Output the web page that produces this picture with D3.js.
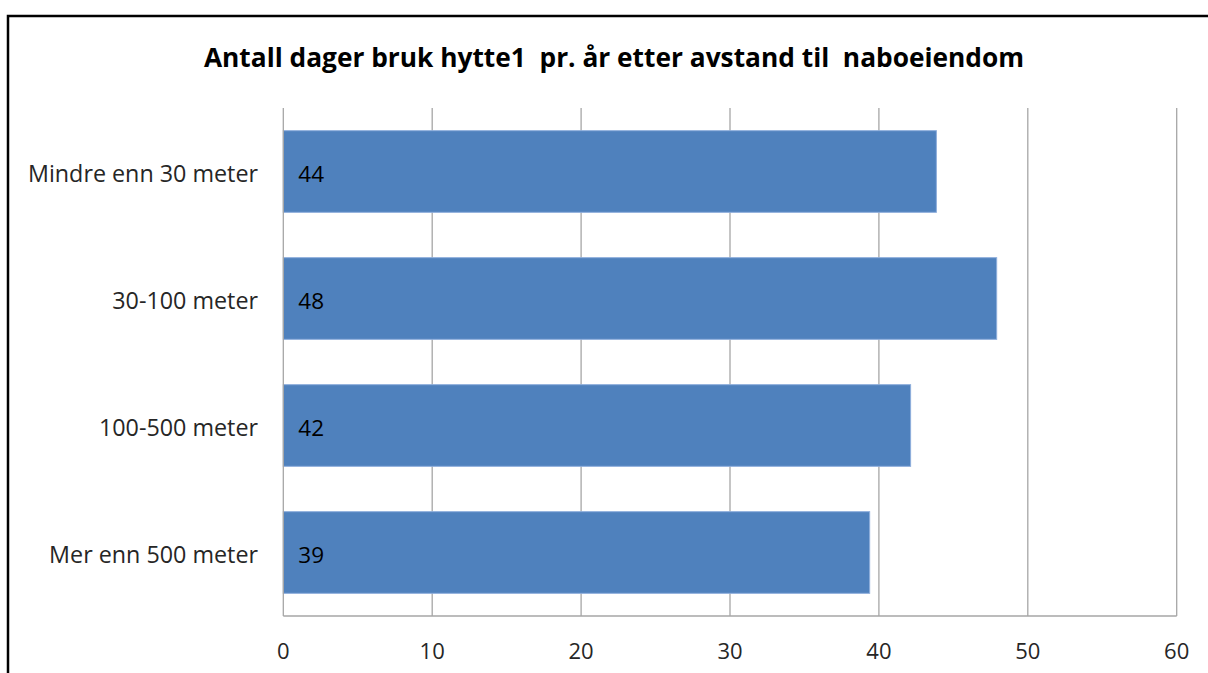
<!DOCTYPE html>
<html><head><meta charset="utf-8">
<script src="https://cdn.jsdelivr.net/npm/d3@7"></script>
<style>
html,body{margin:0;padding:0;background:#fff;}
svg{display:block;}
text{font-family:"Open Sans",sans-serif;}
</style></head>
<body>
<svg id="chart" width="1208" height="673"></svg>
<script>
const title = "Antall dager bruk hytte1  pr. år etter avstand til  naboeiendom";
const categories = ["Mindre enn 30 meter","30-100 meter","100-500 meter","Mer enn 500 meter"];
const values = [43.86, 47.91, 42.13, 39.38];
const valueLabels = ["44","48","42","39"];
const ticks = [0,10,20,30,40,50,60];

const svg = d3.select("#chart");
// frame
svg.append("rect").attr("x",8).attr("y",16).attr("width",1220).attr("height",700)
  .attr("fill","none").attr("stroke","#000").attr("stroke-width",2.5);

const m = {left:283.3, right:1176.7, top:108, bottom:616};
const x = d3.scaleLinear().domain([0,60]).range([m.left,m.right]);
const y = d3.scaleBand().domain(categories).range([m.top,m.bottom]).paddingInner(0.357).paddingOuter(0.1785);

svg.append("text").attr("x",614).attr("y",66.5).attr("text-anchor","middle")
  .style("font-size","26.3px").style("font-weight","bold").style("white-space","pre")
  .attr("fill","#000").text(title);

// gridlines
svg.append("g").selectAll("line").data(ticks.slice(1)).join("line")
  .attr("x1",d=>x(d)).attr("x2",d=>x(d)).attr("y1",m.top).attr("y2",m.bottom)
  .attr("stroke","#a6a6a6").attr("stroke-width",1.3);

// bars
svg.append("g").selectAll("rect").data(categories).join("rect")
  .attr("x",x(0)).attr("y",d=>y(d)).attr("width",(d,i)=>x(values[i])-x(0)).attr("height",y.bandwidth())
  .attr("fill","#4f81bd").attr("stroke","#8eaedb").attr("stroke-width",1);

// axes lines
svg.append("line").attr("x1",m.left).attr("x2",m.left).attr("y1",m.top).attr("y2",m.bottom)
  .attr("stroke","#a6a6a6").attr("stroke-width",1.3);
svg.append("line").attr("x1",m.left).attr("x2",m.right).attr("y1",m.bottom).attr("y2",m.bottom)
  .attr("stroke","#a6a6a6").attr("stroke-width",1.3);

// value labels
svg.append("g").selectAll("text").data(categories).join("text")
  .attr("x",x(0)+15).attr("y",d=>y(d)+y.bandwidth()/2+10)
  .style("font-size","22.5px").attr("fill","#000").text((d,i)=>valueLabels[i]);

// category labels
svg.append("g").selectAll("text").data(categories).join("text")
  .attr("x",258).attr("y",d=>y(d)+y.bandwidth()/2+10).attr("text-anchor","end")
  .style("font-size","23.3px").attr("fill","#262626").text(d=>d);

// tick labels
svg.append("g").selectAll("text").data(ticks).join("text")
  .attr("x",d=>x(d)).attr("y",658.5).attr("text-anchor","middle")
  .style("font-size","22px").attr("fill","#262626").text(d=>d);
</script>
</body></html>
